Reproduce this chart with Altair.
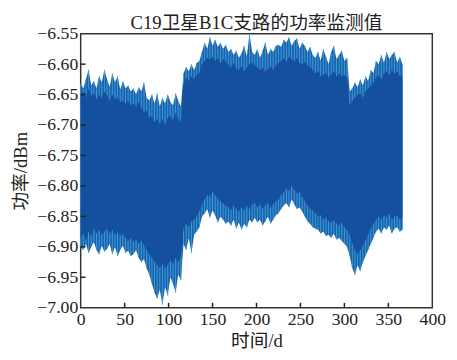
import altair as alt
import pandas as pd

# sample times (days)
days = list(range(0, 367, 3))

# upper envelope of the dense noise (light spikes)
upper_spike = [
    -6.632, -6.640, -6.625, -6.609, -6.635, -6.628, -6.640, -6.620, -6.630, -6.609,
    -6.625, -6.638, -6.615, -6.630, -6.620, -6.642, -6.628, -6.640, -6.635, -6.645,
    -6.640, -6.650, -6.638, -6.645, -6.630, -6.655, -6.660, -6.650, -6.665, -6.648,
    -6.670, -6.655, -6.665, -6.650, -6.662, -6.668, -6.648, -6.660, -6.670,
    -6.615, -6.605, -6.612, -6.600, -6.610, -6.598, -6.595,
    -6.580, -6.565, -6.575, -6.556, -6.570, -6.560, -6.572, -6.565, -6.575, -6.568,
    -6.580, -6.575, -6.585, -6.578, -6.590, -6.582, -6.570, -6.588, -6.550, -6.580,
    -6.585, -6.575, -6.590, -6.578, -6.565, -6.585, -6.575, -6.580, -6.570, -6.568,
    -6.572, -6.560, -6.565, -6.556, -6.570, -6.562, -6.558, -6.575, -6.565, -6.570, -6.580, -6.572,
    -6.585, -6.590, -6.580, -6.595, -6.575, -6.588, -6.600, -6.580, -6.570, -6.592, -6.585, -6.578, -6.595, -6.590,
    -6.645, -6.640, -6.630, -6.638, -6.625, -6.635, -6.620, -6.628, -6.610,
    -6.615, -6.595, -6.600, -6.585, -6.598, -6.580, -6.592, -6.585, -6.580, -6.598, -6.588, -6.600,
]

# upper edge of the dense (dark) band
upper_core = [
    -6.650, -6.645, -6.655, -6.640, -6.652, -6.648, -6.658, -6.650, -6.655, -6.645,
    -6.652, -6.660, -6.650, -6.658, -6.655, -6.662, -6.660, -6.665, -6.660, -6.668,
    -6.665, -6.670, -6.662, -6.672, -6.680, -6.676, -6.688, -6.685, -6.695, -6.690,
    -6.698, -6.690, -6.700, -6.688, -6.685, -6.692, -6.680, -6.690, -6.695,
    -6.630, -6.622, -6.628, -6.620, -6.625, -6.618, -6.615,
    -6.600, -6.595, -6.590, -6.592, -6.588, -6.595, -6.590, -6.598, -6.592, -6.596,
    -6.600, -6.605, -6.598, -6.608, -6.610, -6.603, -6.612, -6.605, -6.600, -6.598,
    -6.602, -6.605, -6.610, -6.606, -6.612, -6.608, -6.604, -6.610, -6.602, -6.598,
    -6.595, -6.590, -6.596, -6.588, -6.592, -6.595, -6.590, -6.598, -6.600, -6.596, -6.602, -6.605,
    -6.610, -6.615, -6.612, -6.620, -6.618, -6.615, -6.622, -6.618, -6.612, -6.620, -6.616, -6.620, -6.618, -6.622,
    -6.668, -6.660, -6.655, -6.650, -6.648, -6.655, -6.645, -6.640, -6.635,
    -6.630, -6.622, -6.618, -6.625, -6.615, -6.612, -6.618, -6.610, -6.615, -6.612, -6.620, -6.618,
]

# lower edge of the dense (dark) band
lower_core = [
    -6.885, -6.878, -6.890, -6.875, -6.882, -6.870, -6.878, -6.872, -6.880, -6.875,
    -6.870, -6.878, -6.872, -6.880, -6.876, -6.882, -6.878, -6.885, -6.890, -6.886,
    -6.892, -6.888, -6.895, -6.890, -6.898, -6.905, -6.912, -6.918, -6.925, -6.930,
    -6.935, -6.928, -6.935, -6.930, -6.922, -6.928, -6.918, -6.925, -6.915,
    -6.870, -6.862, -6.868, -6.858, -6.855, -6.850, -6.842,
    -6.830, -6.822, -6.815, -6.818, -6.810, -6.815, -6.820, -6.825, -6.828, -6.832,
    -6.835, -6.840, -6.832, -6.838, -6.842, -6.835, -6.840, -6.832, -6.838, -6.830,
    -6.828, -6.835, -6.830, -6.838, -6.832, -6.828, -6.836, -6.830, -6.825, -6.822,
    -6.815, -6.810, -6.805, -6.808, -6.800, -6.806, -6.812, -6.810, -6.818, -6.825, -6.832, -6.838,
    -6.840, -6.845, -6.850, -6.848, -6.855, -6.852, -6.858, -6.860, -6.856, -6.862, -6.865, -6.860, -6.868, -6.872,
    -6.880, -6.895, -6.905, -6.912, -6.905, -6.898, -6.890, -6.880, -6.870,
    -6.862, -6.855, -6.850, -6.855, -6.848, -6.852, -6.845, -6.855, -6.850, -6.848, -6.855, -6.852,
]

# lower envelope of the dense noise (light spikes)
lower_spike = [
    -6.900, -6.905, -6.895, -6.910, -6.900, -6.892, -6.905, -6.912, -6.898, -6.908,
    -6.903, -6.895, -6.912, -6.900, -6.915, -6.905, -6.898, -6.910, -6.906, -6.915,
    -6.912, -6.905, -6.918, -6.925, -6.920, -6.935, -6.945, -6.960, -6.975, -6.985,
    -6.970, -6.995, -6.965, -6.980, -6.950, -6.960, -6.975, -6.945, -6.955,
    -6.895, -6.905, -6.885, -6.910, -6.880, -6.875, -6.868,
    -6.850, -6.845, -6.838, -6.852, -6.840, -6.848, -6.860, -6.850, -6.855, -6.862,
    -6.858, -6.865, -6.855, -6.870, -6.860, -6.872, -6.862, -6.868, -6.855, -6.860,
    -6.852, -6.860, -6.855, -6.865, -6.858, -6.850, -6.862, -6.855, -6.848, -6.845,
    -6.838, -6.832, -6.828, -6.835, -6.822, -6.830, -6.838, -6.835, -6.842, -6.850, -6.858, -6.862,
    -6.868, -6.870, -6.872, -6.878, -6.875, -6.882, -6.880, -6.885, -6.878, -6.888, -6.885, -6.890, -6.895, -6.900,
    -6.915, -6.935, -6.946, -6.930, -6.940, -6.925, -6.915, -6.905, -6.895,
    -6.885, -6.875, -6.870, -6.878, -6.868, -6.872, -6.865, -6.878, -6.870, -6.868, -6.875, -6.872,
]

x_ticks = [0, 50, 100, 150, 200, 250, 300, 350, 400]
y_ticks = [-7.00, -6.95, -6.90, -6.85, -6.80, -6.75, -6.70, -6.65, -6.60, -6.55]

FONT = "Liberation Serif, Noto Sans CJK SC, serif"
W, H = 358, 279

df = pd.DataFrame({
    "day": days,
    "hi": upper_spike,
    "core_hi": upper_core,
    "core_lo": lower_core,
    "lo": lower_spike,
})

xs = alt.Scale(domain=[0, 400], nice=False)
ys = alt.Scale(domain=[-7.0, -6.55], nice=False)

x_axis = alt.Axis(values=x_ticks, title="时间/d", grid=False, ticks=False, domain=False,
                  labelPadding=3, titlePadding=3, format="d",
                  labelOverlap=False, labelFlush=False,
                  labelFont=FONT, titleFont=FONT, labelFontSize=18, titleFontSize=19,
                  labelColor="#222", titleColor="#222", titleFontWeight="normal")
y_axis = alt.Axis(values=y_ticks, title="功率/dBm", grid=False, ticks=False, domain=False,
                  labelPadding=3, titlePadding=6,
                  labelOverlap=False, labelFlush=False,
                  labelExpr="replace(format(datum.value, '.2f'), '-', '−')",
                  labelFont=FONT, titleFont=FONT, labelFontSize=18, titleFontSize=19,
                  labelColor="#222", titleColor="#222", titleFontWeight="normal")


def X(field):
    return alt.X(field, scale=xs, axis=x_axis)


def Y(field):
    return alt.Y(field, scale=ys, axis=y_axis)


fringe = alt.Chart(df).mark_area(color="#1d5fab", interpolate="linear").encode(
    x=X("day:Q"), y=Y("lo:Q"), y2="hi:Q",
)

spikes = alt.Chart(df).mark_rule(color="#3aa6dc", strokeWidth=0.9).encode(
    x=X("day:Q"), y=Y("lo:Q"), y2="hi:Q",
)

core = alt.Chart(df).mark_area(color="#15509f", opacity=1, interpolate="linear").encode(
    x=X("day:Q"), y=Y("core_lo:Q"), y2="core_hi:Q",
)

xt = pd.DataFrame({"t": x_ticks[1:-1]})
yt = pd.DataFrame({"t": y_ticks[1:-1]})

xtick_marks = alt.Chart(xt).mark_rule(color="#222", strokeWidth=1.5).encode(
    x=X("t:Q"),
    y=alt.value(H),
    y2=alt.value(H - 5),
)
ytick_marks = alt.Chart(yt).mark_rule(color="#222", strokeWidth=1.5).encode(
    y=Y("t:Q"),
    x=alt.value(0),
    x2=alt.value(5),
)

chart = alt.layer(fringe, spikes, core, xtick_marks, ytick_marks).properties(
    width=W,
    height=H,
    background="white",
    title=alt.TitleParams("C19卫星B1C支路的功率监测值", font=FONT, fontSize=19,
                          fontWeight="normal", color="#222", offset=-8, anchor="middle"),
    autosize=alt.AutoSizeParams(type="none"),
    padding={"left": 74, "top": 23, "right": 17, "bottom": 48},
).configure_view(
    stroke="#333", strokeWidth=1.5
)

chart.save("out.html", embed_options={"renderer": "svg", "actions": False})
